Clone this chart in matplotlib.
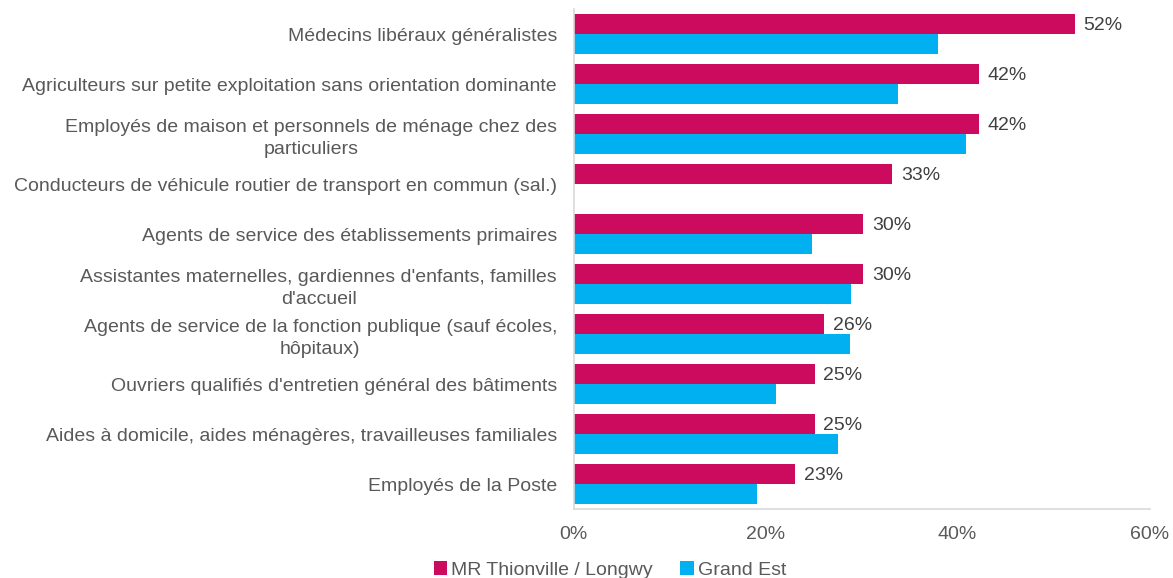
import numpy as np
import matplotlib.pyplot as plt
from matplotlib.ticker import FuncFormatter

plt.rcParams['font.family'] = ['Liberation Sans', 'DejaVu Sans']

categories = [
    "Médecins libéraux généralistes",
    "Agriculteurs sur petite exploitation sans orientation dominante",
    "Employés de maison et personnels de ménage chez des\nparticuliers",
    "Conducteurs de véhicule routier de transport en commun (sal.)",
    "Agents de service des établissements primaires",
    "Assistantes maternelles, gardiennes d'enfants, familles\nd'accueil",
    "Agents de service de la fonction publique (sauf écoles,\nhôpitaux)",
    "Ouvriers qualifiés d'entretien général des bâtiments",
    "Aides à domicile, aides ménagères, travailleuses familiales",
    "Employés de la Poste",
]
mr_values = [52.2, 42.2, 42.2, 33.2, 30.2, 30.2, 26.1, 25.1, 25.1, 23.1]
ge_values = [38.0, 33.8, 40.9, 0.0, 24.8, 28.9, 28.8, 21.1, 27.5, 19.1]
mr_labels = ["52%", "42%", "42%", "33%", "30%", "30%", "26%", "25%", "25%", "23%"]
series_names = ["MR Thionville / Longwy", "Grand Est"]

mr_color = "#CC0A5E"
ge_color = "#00B0F0"
fs = 14

fig = plt.figure(figsize=(11.73, 5.78), dpi=100)
ax = fig.add_axes([0.489, 0.119, 0.491, 0.865])

y = np.arange(len(categories))
h = 0.4
ax.barh(y - h / 2, mr_values, height=h, color=mr_color, label=series_names[0])
ax.barh(y + h / 2, ge_values, height=h, color=ge_color, label=series_names[1])

for yi, v, lab in zip(y, mr_values, mr_labels):
    ax.text(v + 0.9, yi - h / 2 + 0.02, lab, va='center', ha='left', fontsize=fs, color='#404040')

ax.set_ylim(len(categories) - 0.5, -0.5)
ax.set_xlim(0, 60)
ax.set_xticks([0, 20, 40, 60])
ax.xaxis.set_major_formatter(FuncFormatter(lambda v, p: f"{v:.0f}%"))
ax.set_yticks(y)
ax.set_yticklabels(categories, fontsize=fs, color='#595959', multialignment='center')
for t in ax.get_yticklabels():
    t.set_linespacing(1.4)
ax.tick_params(axis='both', length=0)
ax.tick_params(axis='x', labelsize=fs, labelcolor='#595959', pad=12)
ax.tick_params(axis='y', pad=12)

for s in ['top', 'right']:
    ax.spines[s].set_visible(False)
for s in ['left', 'bottom']:
    ax.spines[s].set_color('#D9D9D9')
    ax.spines[s].set_linewidth(1.2)

fig.legend(loc='center', bbox_to_anchor=(0.52, 0.014), ncol=2, frameon=False,
           fontsize=fs, handlelength=0.7, handleheight=0.7, handletextpad=0.2,
           columnspacing=1.4, labelcolor='#595959', borderpad=0)

fig.savefig('out.png', dpi=100)
